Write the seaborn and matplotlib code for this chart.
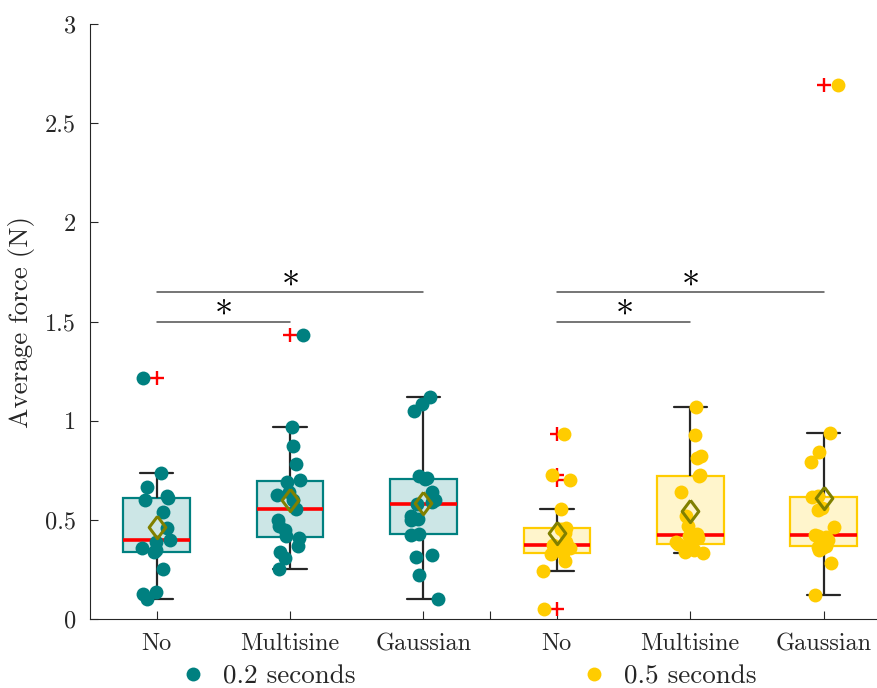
import numpy as np
import pandas as pd
import matplotlib
matplotlib.use('Agg')
import matplotlib.pyplot as plt
from matplotlib.lines import Line2D
import seaborn as sns

# values (average force in N per participant)
conditions = ['No', 'Multisine', 'Gaussian']
durations = ['0.2 seconds', '0.5 seconds']

no_02 = [0.10, 0.125, 0.135, 0.25, 0.34, 0.35, 0.36, 0.39, 0.40, 0.46, 0.54, 0.60, 0.612, 0.62, 0.667, 0.738, 1.215]
multi_02 = [0.25, 0.31, 0.34, 0.37, 0.41, 0.42, 0.45, 0.47, 0.50, 0.555, 0.60, 0.625, 0.64, 0.69, 0.70, 0.78, 0.87, 0.97, 1.43]
gauss_02 = [0.10, 0.22, 0.315, 0.325, 0.425, 0.43, 0.50, 0.505, 0.52, 0.58, 0.59, 0.60, 0.64, 0.705, 0.71, 0.72, 1.05, 1.085, 1.12]
no_05 = [0.05, 0.242, 0.29, 0.33, 0.335, 0.35, 0.36, 0.37, 0.373, 0.39, 0.435, 0.455, 0.46, 0.553, 0.70, 0.726, 0.933]
multi_05 = [0.334, 0.34, 0.35, 0.365, 0.375, 0.38, 0.39, 0.41, 0.42, 0.422, 0.43, 0.47, 0.52, 0.64, 0.72, 0.725, 0.81, 0.82, 0.93, 1.067]
gauss_05 = [0.12, 0.28, 0.35, 0.36, 0.365, 0.37, 0.40, 0.415, 0.42, 0.424, 0.465, 0.55, 0.56, 0.615, 0.62, 0.79, 0.84, 0.94, 2.69]

# significance bars: (from group, to group, height)
sig_pairs = [(0, 1, 1.5), (0, 2, 1.65), (3, 4, 1.5), (3, 5, 1.65)]

dark = {'0.2 seconds': '#008080', '0.5 seconds': '#FFCC00'}
light = {'0.2 seconds': '#CCE6E6', '0.5 seconds': '#FFF5CC'}

series = [no_02, multi_02, gauss_02, no_05, multi_05, gauss_05]
rows = []
order = []
for i, vals in enumerate(series):
    dur = durations[i // 3]
    key = conditions[i % 3] + ' ' + dur
    order.append(key)
    for v in vals:
        rows.append({'group': key, 'duration': dur, 'force': v})
df = pd.DataFrame(rows)

sns.set_style('ticks')
plt.rcParams['font.family'] = 'cmr10'
plt.rcParams['mathtext.fontset'] = 'cm'
plt.rcParams['axes.formatter.use_mathtext'] = True

fig = plt.figure(figsize=(8.77, 6.88), dpi=100)
ax = fig.add_axes([0.1026, 0.1003, 0.8974, 0.8648])

np.random.seed(11)
diamond = [(0, 1), (0.75, 0), (0, -1), (-0.75, 0), (0, 1)]
for dur in durations:
    sub = df[df['duration'] == dur]
    sns.boxplot(data=sub, x='group', y='force', order=order, ax=ax,
                color=light[dur], linecolor=dark[dur], saturation=1,
                width=0.5, linewidth=1.6, whis=1.5,
                whiskerprops=dict(color='#262626', linewidth=1.6),
                capprops=dict(color='#262626', linewidth=1.6),
                medianprops=dict(color='#FF0000', linewidth=2.6),
                flierprops=dict(marker='+', markeredgecolor='#FF0000',
                                markersize=10, markeredgewidth=1.7),
                showmeans=True,
                meanprops=dict(marker=diamond, markerfacecolor='none',
                               markeredgecolor='#808000', markeredgewidth=2.2,
                               markersize=16, zorder=5))
    sns.stripplot(data=sub, x='group', y='force', order=order, ax=ax,
                  color=dark[dur], size=10, jitter=0.11, linewidth=0,
                  zorder=3)

for a, b, h in sig_pairs:
    ax.plot([a, b], [h, h], color='#505050', linewidth=1.1)
    ax.text((a + b) / 2, h + 0.078, r'$\ast$', ha='center', va='center',
            fontsize=26, color='black')

ax.set_xlim(-0.5, 5.4)
ax.set_ylim(0, 3)
ax.set_xticks([0, 1, 2, 2.5, 3, 4, 5])
ax.set_xticklabels(conditions + [''] + conditions)
ax.set_yticks([0, 0.5, 1, 1.5, 2, 2.5, 3])
ax.set_yticklabels(['0', '0.5', '1', '1.5', '2', '2.5', '3'])
ax.set_xlabel('')
ax.set_ylabel('Average force (N)', fontsize=19.5, color='#262626', labelpad=7)
ax.tick_params(direction='in', length=6, width=0.8, labelsize=17.5,
               colors='#262626', pad=10)
for s in ['top', 'right']:
    ax.spines[s].set_visible(False)
for s in ['left', 'bottom']:
    ax.spines[s].set_color('#262626')
    ax.spines[s].set_linewidth(0.8)

handles = [Line2D([], [], linestyle='none', marker='o', markersize=10,
                  markerfacecolor=dark[d], markeredgecolor='none')
           for d in durations]
fig.legend(handles, durations, loc='center', bbox_to_anchor=(0.532, 0.0174),
           ncol=2, frameon=False, fontsize=19.5, columnspacing=8.2,
           handletextpad=0.5, handlelength=1.2)

fig.savefig('out.png', dpi=100)
